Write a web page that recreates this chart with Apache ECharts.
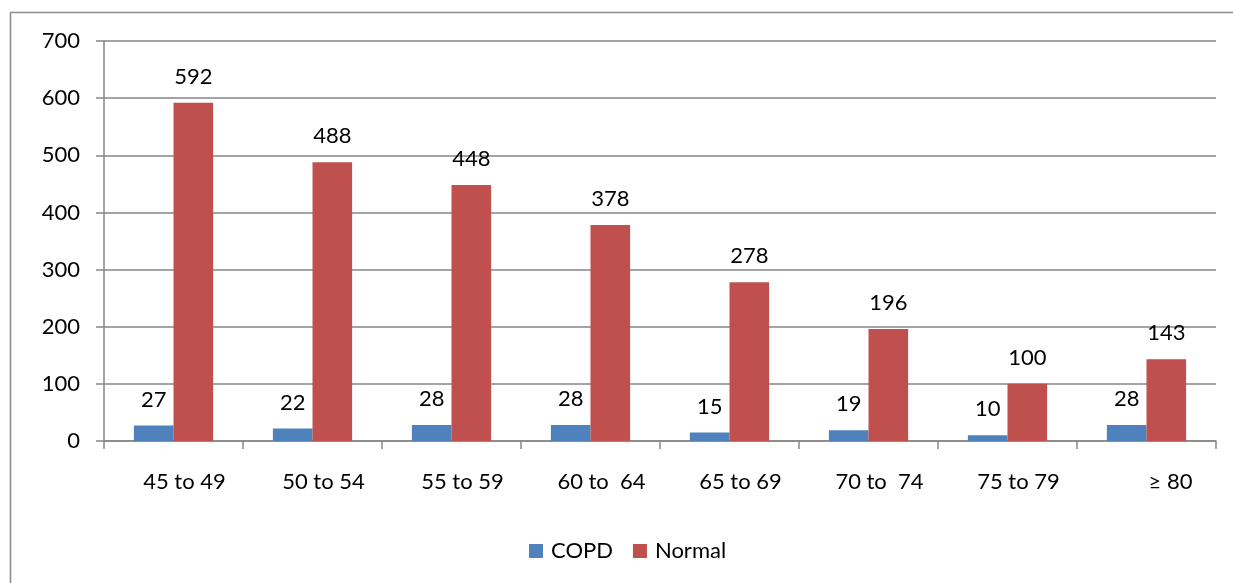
<!DOCTYPE html>
<html><head><meta charset="utf-8">
<script src="https://cdn.jsdelivr.net/npm/echarts@6/dist/echarts.min.js"></script>
<style>html,body{margin:0;padding:0;background:#fff}#c{width:1233px;height:583px}</style>
</head><body><div id="c"></div>
<script>
const categories = ["45 to 49", "50 to 54", "55 to 59", "60 to  64", "65 to 69", "70 to  74", "75 to 79", "\u2265 80"];
const copd = [27, 22, 28, 28, 15, 19, 10, 28];
const normal = [592, 488, 448, 378, 278, 196, 100, 143];
const yTicks = [0, 100, 200, 300, 400, 500, 600, 700];

const FONT = "Lato, 'Open Sans', sans-serif";
const GRID = '#868686';
const chart = echarts.init(document.getElementById('c'));
chart.setOption({
  animation: false,
  graphic: [{type:'rect', shape:{x:10.5, y:12.5, width:1260, height:620}, style:{fill:null, stroke:'#8c8c8c', lineWidth:1.5}, silent:true}],
  grid: {left:104, right:17, top:41, bottom:142, containLabel:false},
  legend: {
    data:['COPD','Normal'], bottom:16, left:524, itemWidth:14, itemHeight:14, itemGap:20,
    icon:'rect', textStyle:{fontFamily:FONT, fontSize:22, color:'#000', padding:[0,0,0,3]}
  },
  xAxis: {
    type:'category', data:categories,
    axisLine:{lineStyle:{color:GRID, width:1.5}},
    axisTick:{show:true, length:8, alignWithLabel:false, lineStyle:{color:GRID, width:1.5}},
    axisLabel:{
      interval:0, margin:30, color:'#000', fontFamily:FONT, fontSize:22,
      formatter:(v,i)=> i===categories.length-1 ? '{b|'+v+'}' : '{a|'+v+'}',
      rich:{a:{padding:[0,0,0,22], fontFamily:FONT, fontSize:22, color:'#000'},
            b:{padding:[0,0,0,48], fontFamily:FONT, fontSize:22, color:'#000'}}
    }
  },
  yAxis: {
    type:'value', min:0, max:700, interval:100,
    axisLine:{show:true, lineStyle:{color:GRID, width:1.5}},
    axisTick:{show:true, length:8, lineStyle:{color:GRID, width:1.5}},
    splitLine:{lineStyle:{color:GRID, width:1.5}},
    axisLabel:{margin:24, color:'#000', fontFamily:FONT, fontSize:22,
      formatter:v=> yTicks.includes(v) ? String(v) : ''}
  },
  series: [
    {name:'COPD', type:'bar', data:copd, barGap:'0%', barCategoryGap:'43%',
     itemStyle:{color:'#4F81BD'},
     label:{show:true, position:'top', distance:15, color:'#000', fontFamily:FONT, fontSize:22}},
    {name:'Normal', type:'bar', data:normal,
     itemStyle:{color:'#C0504D'},
     label:{show:true, position:'top', distance:15, color:'#000', fontFamily:FONT, fontSize:22}}
  ]
});
</script></body></html>
